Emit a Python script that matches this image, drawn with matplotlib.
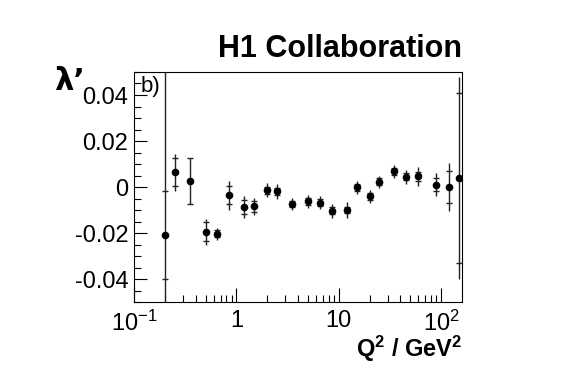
import matplotlib
matplotlib.use("Agg")
import matplotlib.pyplot as plt
from matplotlib.ticker import LogLocator, MultipleLocator, FixedLocator, FixedFormatter, NullFormatter
import numpy as np

plt.rcParams['font.family'] = ['Liberation Sans', 'DejaVu Sans']

q2 = [0.2, 0.25, 0.35, 0.5, 0.65, 0.85, 1.2, 1.5, 2.0, 2.5, 3.5, 5.0, 6.5, 8.5,
      12, 15, 20, 25, 35, 45, 60, 90, 120, 150]
lam = [-0.0209, 0.0064, 0.0027, -0.0194, -0.0204, -0.0036, -0.0088, -0.0084,
       -0.0014, -0.0019, -0.0074, -0.0062, -0.0068, -0.0104, -0.0100, -0.0001,
       -0.0040, 0.0023, 0.0068, 0.0045, 0.0046, 0.0010, -0.0001, 0.0039]
err_tot = [0.10, 0.0080, 0.0100, 0.0057, 0.0025, 0.0064, 0.0047, 0.0037,
           0.0030, 0.0033, 0.0025, 0.0028, 0.0027, 0.0030, 0.0036, 0.0029,
           0.0029, 0.0026, 0.0028, 0.0030, 0.0043, 0.0050, 0.0105, 0.0440]
err_stat = [0.0192, 0.0060, 0.0100, 0.0040, 0.0015, 0.0040, 0.0030, 0.0025,
            0.0015, 0.0015, 0.0015, 0.0015, 0.0015, 0.0015, 0.0015, 0.0015,
            0.0015, 0.0015, 0.0015, 0.0015, 0.0020, 0.0028, 0.0070, 0.0370]

fig = plt.figure(figsize=(5.67, 3.78), dpi=100)
ax = fig.add_axes([134/567, 1-302/378, (462-134)/567, (302-72)/378])

ax.errorbar(q2, lam, yerr=err_tot, fmt='o', color='black', ms=4.5,
            elinewidth=1.0, capsize=0, ecolor='#222222')
ax.errorbar(q2, lam, yerr=err_stat, fmt='none', ecolor='#222222',
            elinewidth=0, capsize=2.5, capthick=1.0)

ax.set_xscale('log')
ax.set_xlim(0.1, 160)
ax.set_ylim(-0.05, 0.05)

ax.xaxis.set_major_locator(FixedLocator([0.1, 1, 10, 100]))
ax.xaxis.set_major_formatter(FixedFormatter(['$\\mathregular{10^{-1}}$', '1', '10', '$\\mathregular{10^{2}}$']))
ax.xaxis.set_minor_locator(LogLocator(base=10, subs=np.arange(2, 10)))
ax.xaxis.set_minor_formatter(NullFormatter())
ax.yaxis.set_major_locator(MultipleLocator(0.02))
ax.yaxis.set_minor_locator(MultipleLocator(0.005))
ax.yaxis.set_major_formatter(plt.FuncFormatter(lambda v, p: '0' if abs(v) < 1e-9 else f'{v:.2f}'))

ax.tick_params(which='both', direction='in', top=False, right=False, labelsize=17, width=0.8)
ax.tick_params(axis='x', which='major', length=10, pad=6)
ax.tick_params(axis='x', which='minor', length=5)
ax.tick_params(axis='y', which='major', length=9, pad=4)
ax.tick_params(axis='y', which='minor', length=5)
for s in ax.spines.values():
    s.set_linewidth(0.8)

fig.text(462/567, 1-49/378, 'H1 Collaboration', ha='right', va='center',
         fontsize=22, fontweight='bold')
fig.text(54/567, 1-82/378, "λ’", ha='left', va='center', fontsize=22,
         fontweight='bold', family=['DejaVu Sans'])
ax.text(0.02, 0.935, 'b)', transform=ax.transAxes, ha='left', va='center', fontsize=16)
fig.text(462/567, 1-349/378, 'Q$\\mathregular{^2}$ / GeV$\\mathregular{^2}$', ha='right',
         va='center', fontsize=17, fontweight='bold')

fig.savefig('out.png', dpi=100)
